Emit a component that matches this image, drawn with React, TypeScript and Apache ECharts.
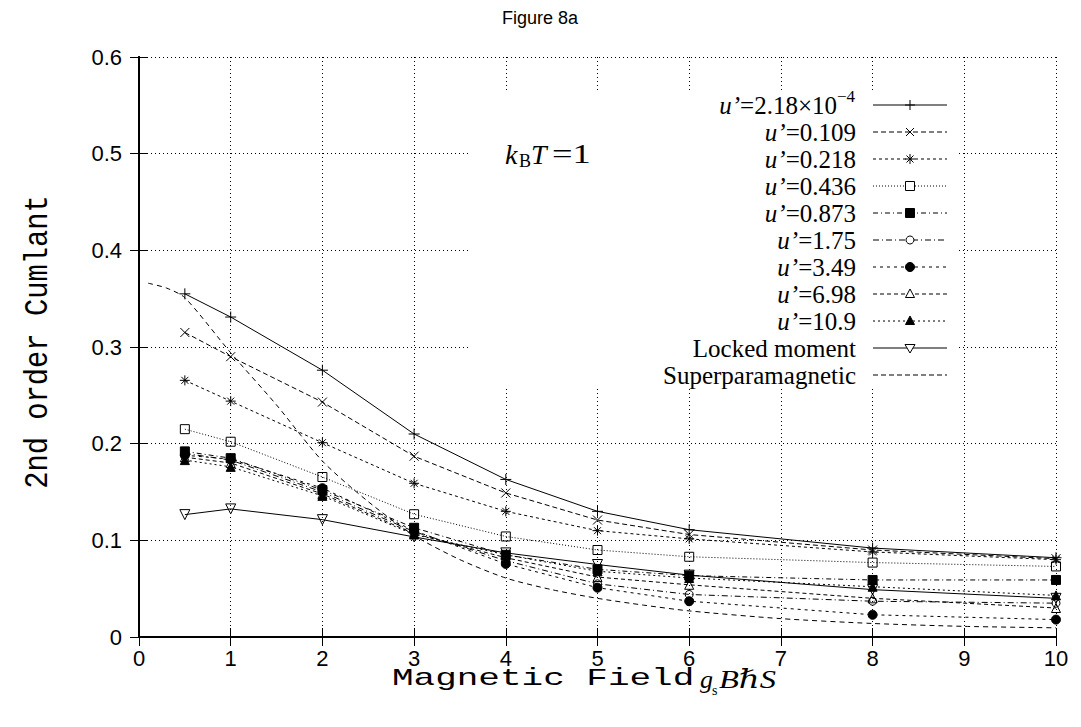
import React, { useEffect, useRef } from "react";
import * as echarts from "echarts";

// ---- data ----
const fieldValues = [0.5, 1, 2, 3, 4, 5, 6, 8, 10];
const uTiny = [0.355, 0.331, 0.276, 0.21, 0.163, 0.13, 0.111, 0.092, 0.082];
const u0109 = [0.315, 0.29, 0.243, 0.187, 0.149, 0.121, 0.106, 0.09, 0.081];
const u0218 = [0.2655, 0.244, 0.201, 0.159, 0.13, 0.11, 0.1015, 0.088, 0.08];
const u0436 = [0.215, 0.202, 0.1655, 0.127, 0.104, 0.09, 0.083, 0.077, 0.073];
const u0873 = [0.192, 0.185, 0.152, 0.113, 0.085, 0.07, 0.0635, 0.059, 0.059];
const u175 = [0.19, 0.183, 0.15, 0.109, 0.079, 0.055, 0.044, 0.037, 0.035];
const u349 = [0.188, 0.184, 0.154, 0.11, 0.0756, 0.051, 0.037, 0.023, 0.018];
const u698 = [0.186, 0.18, 0.148, 0.107, 0.082, 0.062, 0.054, 0.04, 0.03];
const u109 = [0.183, 0.176, 0.146, 0.106, 0.085, 0.068, 0.061, 0.052, 0.043];
const lockedMoment = [0.1266, 0.1325, 0.1214, 0.1035, 0.087, 0.075, 0.064, 0.049, 0.04];
const superX = [0.1, 0.3, 0.5, 1, 1.5, 2, 2.5, 3, 3.5, 4, 4.5, 5, 5.5, 6, 7, 8, 9, 10];
const superY = [0.366, 0.361, 0.351, 0.294, 0.24, 0.182, 0.14, 0.105, 0.08, 0.061, 0.049, 0.04, 0.033, 0.027, 0.019, 0.014, 0.011, 0.0095];

const xTicks = [0, 1, 2, 3, 4, 5, 6, 7, 8, 9, 10];
const yTicks = [0, 0.1, 0.2, 0.3, 0.4, 0.5, 0.6];

const PLUS = "path://M0,5L10,5M5,0L5,10";
const CROSS = "path://M0,0L10,10M10,0L0,10";
const STAR = "path://M0,5L10,5M5,0L5,10M1.5,1.5L8.5,8.5M8.5,1.5L1.5,8.5";

type Item = {
  label: string;
  sup?: string;
  values: number[];
  marker: string;
  dash: number[] | "solid";
};

const items: Item[] = [
  { label: "=2.18×10", sup: "−4", values: uTiny, marker: "plus", dash: "solid" },
  { label: "=0.109", values: u0109, marker: "cross", dash: [5, 3] },
  { label: "=0.218", values: u0218, marker: "star", dash: [3, 3] },
  { label: "=0.436", values: u0436, marker: "rect", dash: [1, 2] },
  { label: "=0.873", values: u0873, marker: "rectFill", dash: [5, 3, 1, 3] },
  { label: "=1.75", values: u175, marker: "circle", dash: [6, 3, 1, 3] },
  { label: "=3.49", values: u349, marker: "circleFill", dash: [3, 4] },
  { label: "=6.98", values: u698, marker: "tri", dash: [4, 3] },
  { label: "=10.9", values: u109, marker: "triFill", dash: [2, 3] },
];

function symbolFor(m: string) {
  switch (m) {
    case "plus": return { symbol: PLUS, size: 11, fill: "transparent" };
    case "cross": return { symbol: CROSS, size: 9, fill: "transparent" };
    case "star": return { symbol: STAR, size: 10, fill: "transparent" };
    case "rect": return { symbol: "rect", size: 9, fill: "transparent" };
    case "rectFill": return { symbol: "rect", size: 9, fill: "#000" };
    case "circle": return { symbol: "circle", size: 8, fill: "transparent" };
    case "circleFill": return { symbol: "circle", size: 9, fill: "#000" };
    case "tri": return { symbol: "triangle", size: 9, fill: "transparent" };
    case "triFill": return { symbol: "triangle", size: 9, fill: "#000" };
  }
  return { symbol: "none", size: 0, fill: "transparent" };
}

function legendMarker(m: string, cx: number, cy: number): any[] {
  const st = { stroke: "#000", lineWidth: 1 };
  const ln = (x1: number, y1: number, x2: number, y2: number) => ({
    type: "line", z: 12, shape: { x1, y1, x2, y2 }, style: { ...st },
  });
  switch (m) {
    case "plus": return [ln(cx - 5, cy, cx + 5, cy), ln(cx, cy - 5, cx, cy + 5)];
    case "cross": return [ln(cx - 4, cy - 4, cx + 4, cy + 4), ln(cx + 4, cy - 4, cx - 4, cy + 4)];
    case "star": return [ln(cx - 5, cy, cx + 5, cy), ln(cx, cy - 5, cx, cy + 5), ln(cx - 3.5, cy - 3.5, cx + 3.5, cy + 3.5), ln(cx + 3.5, cy - 3.5, cx - 3.5, cy + 3.5)];
    case "rect":
    case "rectFill":
      return [{ type: "rect", z: 12, shape: { x: cx - 4.5, y: cy - 4.5, width: 9, height: 9 }, style: { ...st, fill: m === "rectFill" ? "#000" : "#fff" } }];
    case "circle":
    case "circleFill":
      return [{ type: "circle", z: 12, shape: { cx, cy, r: m === "circleFill" ? 4.5 : 4 }, style: { ...st, fill: m === "circleFill" ? "#000" : "#fff" } }];
    case "tri":
    case "triFill":
      return [{ type: "polygon", z: 12, shape: { points: [[cx, cy - 5], [cx + 4.5, cy + 3.5], [cx - 4.5, cy + 3.5]] }, style: { ...st, fill: m === "triFill" ? "#000" : "#fff" } }];
    case "triDown":
      return [{ type: "polygon", z: 12, shape: { points: [[cx, cy + 5], [cx + 5, cy - 3.5], [cx - 5, cy - 3.5]] }, style: { ...st, fill: "#fff" } }];
  }
  return [];
}

export default function App() {
  const ref = useRef<HTMLDivElement>(null);
  useEffect(() => {
    if (!ref.current) return;
    const chart = echarts.init(ref.current, null, { renderer: "svg" });

    const serif = '"Liberation Serif", "DejaVu Serif", serif';
    const sans = '"Liberation Sans", Arial, sans-serif';
    const mono = '"Liberation Mono", "DejaVu Sans Mono", monospace';

    const series: any[] = items.map((it) => {
      const s = symbolFor(it.marker);
      return {
        type: "line",
        name: it.label,
        data: fieldValues.map((x, i) => [x, it.values[i]]),
        symbol: s.symbol,
        symbolSize: s.size,
        lineStyle: { color: "#000", width: 1, type: it.dash },
        itemStyle: { color: s.fill, borderColor: "#000", borderWidth: 1 },
        z: 3,
      };
    });
    series.push({
      type: "line",
      name: "Locked moment",
      data: fieldValues.map((x, i) => [x, lockedMoment[i]]),
      symbol: "triangle",
      symbolRotate: 180,
      symbolSize: 10,
      lineStyle: { color: "#000", width: 1, type: "solid" },
      itemStyle: { color: "transparent", borderColor: "#000", borderWidth: 1 },
      z: 3,
    });
    series.push({
      type: "line",
      name: "Superparamagnetic",
      data: superX.map((x, i) => [x, superY[i]]),
      symbol: "none",
      smooth: 0.25,
      lineStyle: { color: "#000", width: 1, type: [5, 4] },
      z: 3,
    });

    // legend (graphic)
    const rowY0 = 105;
    const rowStep = 27;
    const textRight = 856;
    const lx1 = 873, lx2 = 947, mx = 910;
    const legendEls: any[] = [
      { type: "rect", z: 10, shape: { x: 470, y: 91, width: 488, height: 297 }, style: { fill: "#fff" } },
    ];
    const allRows = [
      ...items.map((it) => ({ label: it.label, sup: it.sup, marker: it.marker, dash: it.dash, u: true })),
      { label: "Locked moment", sup: undefined, marker: "triDown", dash: "solid" as any, u: false },
      { label: "Superparamagnetic", sup: undefined, marker: "none", dash: [5, 3] as any, u: false },
    ];
    allRows.forEach((r, i) => {
      const y = rowY0 + i * rowStep;
      const right = r.sup ? textRight - 19 : textRight;
      legendEls.push({
        type: "text", z: 12, x: right, y,
        style: {
          text: r.u ? "{i|u’}" + r.label : r.label,
          align: "right", verticalAlign: "middle",
          fontFamily: serif, fontSize: 25, fill: "#000",
          rich: { i: { fontFamily: serif, fontSize: 25, fontStyle: "italic", fill: "#000" } },
        },
      });
      if (r.sup) {
        legendEls.push({
          type: "text", z: 12, x: right, y: y - 9,
          style: { text: r.sup, align: "left", verticalAlign: "middle", fontFamily: serif, fontSize: 17, fill: "#000" },
        });
      }
      legendEls.push({
        type: "line", z: 11, shape: { x1: lx1, y1: y, x2: lx2, y2: y },
        style: { stroke: "#000", lineWidth: 1, lineDash: r.dash === "solid" ? null : r.dash },
      });
      legendEls.push(...legendMarker(r.marker, mx, y));
    });

    const graphic: any[] = [
      ...legendEls,
      // title
      { type: "text", x: 540, y: 18, style: { text: "Figure 8a", align: "center", verticalAlign: "middle", fontFamily: sans, fontSize: 18, fill: "#000" } },
      // kBT label
      { type: "text", z: 12, x: 505, y: 154, style: { text: "k", align: "left", verticalAlign: "middle", fontFamily: serif, fontStyle: "italic", fontSize: 28, fill: "#000" } },
      { type: "text", z: 12, x: 519, y: 161, style: { text: "B", align: "left", verticalAlign: "middle", fontFamily: serif, fontSize: 18, fill: "#000" } },
      { type: "text", z: 12, x: 531, y: 154, style: { text: "T", align: "left", verticalAlign: "middle", fontFamily: serif, fontStyle: "italic", fontSize: 28, fill: "#000" } },
      { type: "text", z: 12, x: 552, y: 154, scaleX: 1.3, style: { text: "=1", align: "left", verticalAlign: "middle", fontFamily: serif, fontSize: 28, fill: "#000" } },
      // x axis title
      { type: "text", x: 392, y: 679, scaleX: 1.5, style: { text: "Magnetic Field", align: "left", verticalAlign: "middle", fontFamily: mono, fontSize: 24, fill: "#000" } },
      { type: "text", x: 700, y: 679, style: { text: "g", align: "left", verticalAlign: "middle", fontFamily: serif, fontStyle: "italic", fontSize: 26, fill: "#000" } },
      { type: "text", x: 712, y: 690, style: { text: "s", align: "left", verticalAlign: "middle", fontFamily: serif, fontSize: 14, fill: "#000" } },
      { type: "text", x: 719, y: 679, scaleX: 1.25, style: { text: "BℏS", align: "left", verticalAlign: "middle", fontFamily: serif, fontStyle: "italic", fontSize: 26, fill: "#000" } },
      // y axis title
      { type: "text", x: 38, y: 342, rotation: Math.PI / 2, scaleX: 1.2, scaleY: 1.4, style: { text: "2nd order Cumlant", align: "center", verticalAlign: "middle", fontFamily: mono, fontSize: 24, fill: "#000" } },
    ];

    const axisLine = { show: true, lineStyle: { color: "#000", width: 2 } };
    const tick = { show: true, inside: true, length: 9, lineStyle: { color: "#000", width: 1 } };
    const split = { show: true, lineStyle: { color: "#000", width: 1, type: [1, 3] } };

    chart.setOption({
      animation: false,
      backgroundColor: "#fff",
      grid: { left: 139, right: 25, top: 57, bottom: 90, containLabel: false },
      xAxis: [
        {
          type: "value", min: xTicks[0], max: xTicks[xTicks.length - 1], interval: 1, position: "bottom",
          axisLine, axisTick: tick, splitLine: split,
          axisLabel: { color: "#000", fontFamily: sans, fontSize: 22, margin: 10 },
        },
        {
          type: "value", min: xTicks[0], max: xTicks[xTicks.length - 1], interval: 1, position: "top",
          axisLine, axisTick: tick, splitLine: { show: false }, axisLabel: { show: false },
        },
      ],
      yAxis: [
        {
          type: "value", min: yTicks[0], max: yTicks[yTicks.length - 1], interval: 0.1, position: "left",
          axisLine, axisTick: tick, splitLine: split,
          axisLabel: { color: "#000", fontFamily: sans, fontSize: 22, margin: 17 },
        },
        {
          type: "value", min: yTicks[0], max: yTicks[yTicks.length - 1], interval: 0.1, position: "right",
          axisLine, axisTick: tick, splitLine: { show: false }, axisLabel: { show: false },
        },
      ],
      series,
      graphic,
    });
    return () => chart.dispose();
  }, []);
  return <div ref={ref} style={{ position: "fixed", left: 0, top: 0, width: 1081, height: 727 }} />;
}
